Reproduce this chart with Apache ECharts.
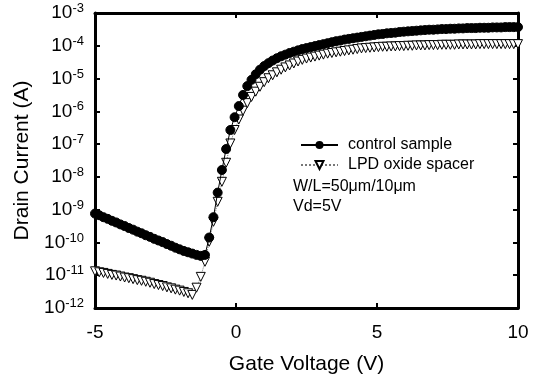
<!DOCTYPE html>
<html><head><meta charset="utf-8">
<script src="https://cdn.jsdelivr.net/npm/echarts@6/dist/echarts.min.js"></script>
<style>html,body{margin:0;padding:0;background:#fff}#c{width:536px;height:383px}</style>
</head><body><div id="c"></div>
<script>
// Gate voltage (V)
const gateVoltage = [-5,-4.85,-4.7,-4.55,-4.4,-4.25,-4.1,-3.95,-3.8,-3.65,
 -3.5,-3.35,-3.2,-3.05,-2.9,-2.75,-2.6,-2.45,-2.3,-2.15,
 -2,-1.85,-1.7,-1.55,-1.4,-1.25,-1.1,-0.95,-0.8,-0.65,
 -0.5,-0.35,-0.2,-0.05,0.1,0.25,0.4,0.55,0.7,0.85,
 1,1.15,1.3,1.45,1.6,1.75,1.9,2.05,2.2,2.35,
 2.5,2.65,2.8,2.95,3.1,3.25,3.4,3.55,3.7,3.85,
 4,4.15,4.3,4.45,4.6,4.75,4.9,5.05,5.2,5.35,
 5.5,5.65,5.8,5.95,6.1,6.25,6.4,6.55,6.7,6.85,
 7,7.15,7.3,7.45,7.6,7.75,7.9,8.05,8.2,8.35,
 8.5,8.65,8.8,8.95,9.1,9.25,9.4,9.55,9.7,9.85,10];
// log10 of drain current (A), control sample
const controlLog10 = [-9.12,-9.17,-9.23,-9.28,-9.34,-9.39,-9.45,-9.50,-9.56,-9.61,
 -9.67,-9.72,-9.78,-9.83,-9.89,-9.94,-9.99,-10.05,-10.10,-10.16,
 -10.21,-10.26,-10.30,-10.34,-10.38,-10.41,-10.38,-9.85,-9.23,-8.48,
 -7.79,-7.15,-6.57,-6.18,-5.84,-5.50,-5.23,-5.04,-4.87,-4.73,
 -4.62,-4.53,-4.45,-4.38,-4.32,-4.27,-4.22,-4.18,-4.14,-4.10,
 -4.07,-4.04,-4.01,-3.98,-3.95,-3.92,-3.89,-3.86,-3.84,-3.81,
 -3.79,-3.77,-3.75,-3.73,-3.71,-3.69,-3.67,-3.65,-3.64,-3.62,
 -3.61,-3.60,-3.58,-3.57,-3.56,-3.55,-3.54,-3.53,-3.52,-3.51,
 -3.51,-3.50,-3.49,-3.49,-3.48,-3.48,-3.47,-3.47,-3.46,-3.46,
 -3.46,-3.45,-3.45,-3.45,-3.44,-3.44,-3.44,-3.43,-3.43,-3.43,-3.43];
// log10 of drain current (A), LPD oxide spacer
const lpdLog10 = [-10.88,-10.91,-10.93,-10.96,-10.99,-11.01,-11.04,-11.07,-11.09,-11.12,
 -11.15,-11.17,-11.20,-11.23,-11.27,-11.30,-11.33,-11.37,-11.40,-11.44,
 -11.47,-11.51,-11.55,-11.60,-11.38,-11.05,-10.59,-9.98,-9.37,-8.76,
 -8.15,-7.57,-6.98,-6.57,-6.25,-5.98,-5.75,-5.56,-5.40,-5.25,
 -5.11,-4.99,-4.90,-4.81,-4.73,-4.66,-4.60,-4.54,-4.48,-4.43,
 -4.39,-4.36,-4.33,-4.30,-4.27,-4.24,-4.22,-4.20,-4.18,-4.16,
 -4.14,-4.12,-4.10,-4.08,-4.07,-4.06,-4.05,-4.04,-4.03,-4.03,
 -4.02,-4.02,-4.01,-4.01,-4.00,-4.00,-3.99,-3.99,-3.99,-3.98,
 -3.98,-3.98,-3.97,-3.97,-3.97,-3.97,-3.96,-3.96,-3.96,-3.96,
 -3.96,-3.95,-3.95,-3.95,-3.95,-3.95,-3.95,-3.95,-3.95,-3.95,-3.95];
const yExpMin = -12, yExpMax = -3;
const xMin = -5, xMax = 10, xStep = 5;
const seriesNames = ['control sample', 'LPD oxide spacer'];
const annotations = ['W/L=50\u03bcm/10\u03bcm', 'Vd=5V'];
const xTitle = 'Gate Voltage (V)', yTitle = 'Drain Current (A)';

const FONT = "'Liberation Sans', Arial, Helvetica, sans-serif";
const axisLine = {show: true, onZero: false, lineStyle: {color: '#000', width: 3}};
const tick = {show: true, inside: true, length: 5, lineStyle: {color: '#000', width: 2}};

const chart = echarts.init(document.getElementById('c'), null, {renderer: 'canvas'});
chart.setOption({
  animation: false,
  backgroundColor: '#fff',
  grid: {left: 95, right: 18, top: 13, bottom: 75},
  xAxis: [
    {type: 'value', min: xMin, max: xMax, interval: xStep, position: 'bottom',
     axisLine, axisTick: tick, splitLine: {show: false},
     axisLabel: {fontSize: 19, color: '#000', margin: 15, fontFamily: FONT},
     name: xTitle, nameLocation: 'middle', nameGap: 46,
     nameTextStyle: {fontSize: 21, color: '#000', fontFamily: FONT}},
    {type: 'value', min: xMin, max: xMax, interval: xStep, position: 'top',
     axisLine, axisTick: tick, splitLine: {show: false}, axisLabel: {show: false}}
  ],
  yAxis: [
    {type: 'value', min: yExpMin, max: yExpMax, interval: 1, position: 'left',
     axisLine, axisTick: tick, splitLine: {show: false},
     axisLabel: {margin: 11, color: '#000', fontFamily: FONT,
       formatter: v => '{b|10}{s|' + v + '}',
       rich: {b: {fontSize: 19, lineHeight: 22, fontFamily: FONT, color: '#000'},
              s: {fontSize: 13, lineHeight: 13, verticalAlign: 'top', fontFamily: FONT, color: '#000'}}},
     name: yTitle, nameLocation: 'middle', nameGap: 55,
     nameTextStyle: {fontSize: 21, color: '#000', fontFamily: FONT}},
    {type: 'value', min: yExpMin, max: yExpMax, interval: 1, position: 'right',
     axisLine, axisTick: tick, splitLine: {show: false}, axisLabel: {show: false}}
  ],
  legend: {
    orient: 'vertical', left: 295, top: 132, itemWidth: 37, itemHeight: 10, itemGap: 4,
    data: seriesNames,
    textStyle: {fontSize: 16, lineHeight: 16, color: '#000', fontFamily: FONT, padding: [0, 0, 0, 5]}
  },
  graphic: [
    {type: 'text', left: 293, top: 179, style: {text: annotations[0], fontSize: 16, fill: '#000', fontFamily: FONT}},
    {type: 'text', left: 293, top: 199, style: {text: annotations[1], fontSize: 16, fill: '#000', fontFamily: FONT}}
  ],
  series: [
    {name: seriesNames[1], type: 'line', z: 2,
     data: gateVoltage.map((v, i) => [v, lpdLog10[i]]),
     symbol: 'triangle', symbolRotate: 180, symbolSize: 9, showAllSymbol: true,
     lineStyle: {type: 'dotted', width: 1, color: '#777'},
     itemStyle: {color: '#fff', borderColor: '#000', borderWidth: 1}},
    {name: seriesNames[0], type: 'line', z: 3,
     data: gateVoltage.map((v, i) => [v, controlLog10[i]]),
     symbol: 'circle', symbolSize: 9, showAllSymbol: true,
     lineStyle: {width: 1, color: '#000'},
     itemStyle: {color: '#000', borderColor: '#000'}}
  ]
});
</script>
</body></html>
